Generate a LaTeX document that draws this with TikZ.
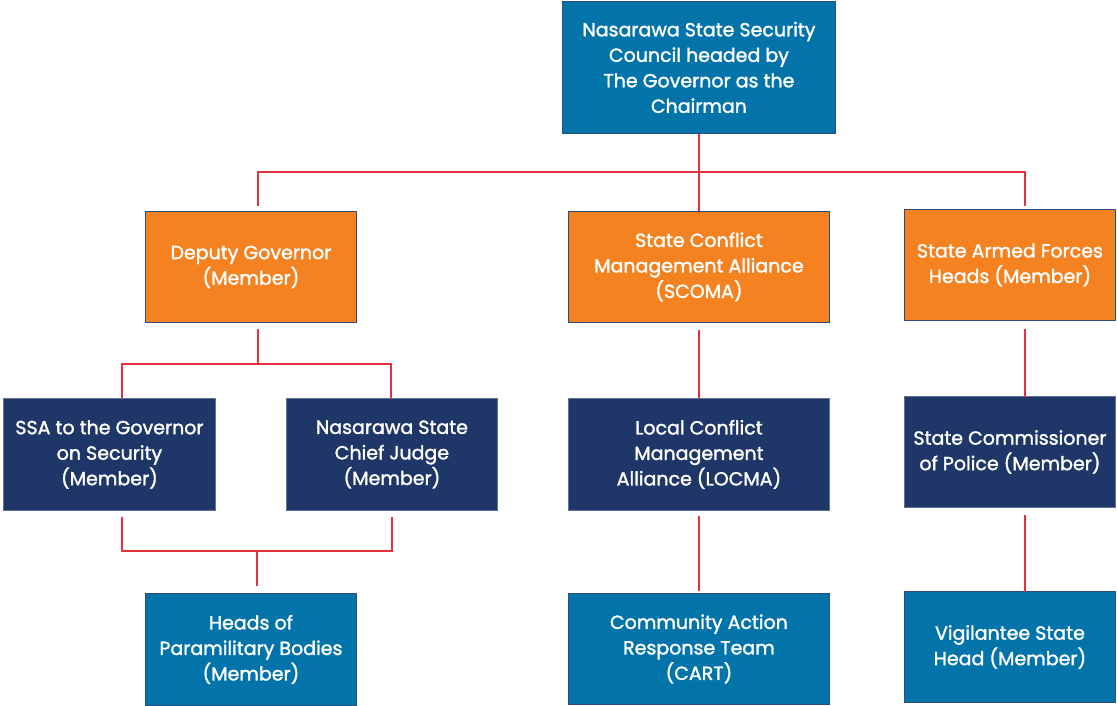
\documentclass[tikz,border=0pt]{standalone}
\usepackage{fontspec}
\setmainfont{Poppins}[BoldFont=Poppins,BoldFeatures={FakeBold=1.6}]
\definecolor{cblue}{HTML}{0274AA}
\definecolor{corange}{HTML}{F58220}
\definecolor{cnavy}{HTML}{1F3668}
\definecolor{cedge}{HTML}{2F4C7E}
\definecolor{cred}{HTML}{E52F3B}
\begin{document}
\begin{tikzpicture}[x=1pt,y=-1pt,
  box/.style={draw=cedge,line width=0.9pt,text=white,align=center,inner sep=0pt,
     font=\fontsize{19}{25.5}\selectfont\bfseries,anchor=north west},
  bluebox/.style={box,fill=cblue},
  orangebox/.style={box,fill=corange},
  navybox/.style={box,fill=cnavy,draw=cnavy!70!white},
  link/.style={draw=cred,line width=1.2pt}]
\useasboundingbox (0,0) rectangle (1117,706);
% boxes
\node[bluebox,minimum width=273pt,minimum height=132pt] (top) at (562,1)
  {Nasarawa State Security\\Council headed by\\The Governor as the\\Chairman};
\node[orangebox,minimum width=211pt,minimum height=111pt] (dep) at (145,211)
  {Deputy Governor\\(Member)};
\node[orangebox,minimum width=261pt,minimum height=111pt] (scoma) at (568,211)
  {State Conflict\\Management Alliance\\(SCOMA)};
\node[orangebox,minimum width=211pt,minimum height=111pt] (armed) at (904,209)
  {State Armed Forces\\Heads (Member)};
\node[navybox,minimum width=212pt,minimum height=112pt] (ssa) at (3,398)
  {SSA to the Governor\\on Security\\(Member)};
\node[navybox,minimum width=211pt,minimum height=112pt] (judge) at (286,398)
  {Nasarawa State\\Chief Judge\\(Member)};
\node[navybox,minimum width=261pt,minimum height=112pt] (locma) at (568,398)
  {Local Conflict\\Management\\Alliance (LOCMA)};
\node[navybox,minimum width=211pt,minimum height=111pt] (police) at (904,396)
  {State Commissioner\\of Police (Member)};
\node[bluebox,minimum width=211pt,minimum height=112pt] (para) at (145,593)
  {Heads of\\Paramilitary Bodies\\(Member)};
\node[bluebox,minimum width=261pt,minimum height=111pt] (cart) at (568,593)
  {Community Action\\Response Team\\(CART)};
\node[bluebox,minimum width=211pt,minimum height=111pt] (vig) at (904,591)
  {Vigilantee State\\Head (Member)};
% connector points
\coordinate (busL) at (258,172);
\coordinate (busR) at (1025,172);
\coordinate (depT) at (258,206);
\coordinate (armT) at (1025,206);
\coordinate (depB) at (258,329);
\coordinate (dbus) at (258,364);
\coordinate (ssaUp) at (122,364);
\coordinate (judUp) at (391,364);
\coordinate (ssaB) at (122,517);
\coordinate (judB) at (392,517);
\coordinate (lbusL) at (122,551);
\coordinate (lbusR) at (392,551);
\coordinate (lbusM) at (257,551);
\coordinate (paraT) at (257,586);
\coordinate (armB) at (1025,329);
\coordinate (polT) at (1025,397);
\coordinate (polB) at (1025,515);
\coordinate (vigT) at (1025,592);
% connectors
\draw[link] (top.south) -- (scoma.north);
\draw[link] (depT) -- (busL) -- (busR) -- (armT);
\draw[link] (depB) -- (dbus);
\draw[link] (ssa.north -| ssaUp) -- (ssaUp) -- (judUp) -- (judge.north -| judUp);
\draw[link] (ssaB) -- (lbusL) -- (lbusR) -- (judB);
\draw[link] (lbusM) -- (paraT);
\draw[link] ([yshift=-7pt]scoma.south) -- (locma.north);
\draw[link] ([yshift=-5pt]locma.south) -- ([yshift=2pt]cart.north);
\draw[link] (armB) -- (polT);
\draw[link] (polB) -- (vigT);
\end{tikzpicture}
\end{document}
